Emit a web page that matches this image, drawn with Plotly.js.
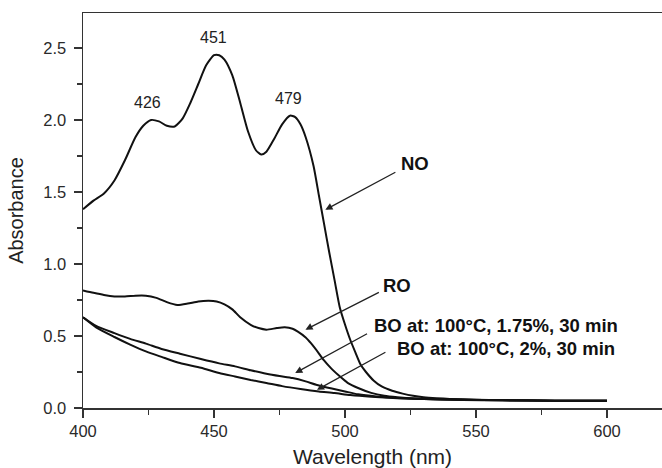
<!DOCTYPE html>
<html>
<head>
<meta charset="utf-8">
<script src="https://cdn.plot.ly/plotly-3.0.1.min.js"></script>
<style>html,body{margin:0;padding:0;background:#fff;}#chart{width:662px;height:468px;}</style>
</head>
<body>
<div id="chart"></div>
<script>
// NO
const noX = [400,404,408,412,416,420,423,426,429,432,435,438,441,444,447,450,452,454,457,460,463,466,468,470,473,476,479,481,483,485,488,490,492,494,496,498,500,502,504,506,508,511,514,518,522,526,530,535,540,550,560,570,580,590,600];
const noY = [1.38,1.44,1.49,1.58,1.72,1.88,1.96,2.00,1.99,1.96,1.955,2.01,2.12,2.25,2.38,2.45,2.45,2.42,2.31,2.12,1.92,1.79,1.76,1.78,1.87,1.97,2.03,2.02,1.97,1.88,1.68,1.48,1.28,1.08,0.89,0.70,0.58,0.474,0.385,0.30,0.25,0.19,0.15,0.12,0.10,0.085,0.075,0.068,0.063,0.058,0.055,0.053,0.05,0.05,0.05];
// RO
const roX = [400,404,408,412,416,420,424,428,432,436,440,444,448,451,454,457,460,464,467,470,474,477,480,482,485,487,490,492,495,498,501,505,510,515,520,527,535,545,560,580,600];
const roY = [0.817,0.80,0.785,0.775,0.774,0.78,0.78,0.765,0.735,0.715,0.725,0.74,0.745,0.74,0.72,0.685,0.63,0.578,0.555,0.544,0.555,0.56,0.55,0.53,0.49,0.45,0.38,0.33,0.27,0.22,0.175,0.139,0.105,0.085,0.075,0.066,0.06,0.057,0.054,0.05,0.05];
// BO at 100°C, 1.75%, 30 min
const bo175X = [400,405,412,418,424,430,437,445,452,458,464,470,475,480,485,489,495,500,505,512,520,530,545,560,580,600];
const bo175Y = [0.63,0.57,0.52,0.48,0.447,0.41,0.377,0.34,0.31,0.289,0.262,0.238,0.222,0.208,0.185,0.162,0.135,0.115,0.095,0.08,0.07,0.063,0.057,0.054,0.05,0.05];
// BO at 100°C, 2%, 30 min
const bo2X = [400,405,412,418,424,430,437,445,452,458,464,470,476,483,490,496,502,510,520,530,545,560,580,600];
const bo2Y = [0.63,0.56,0.493,0.44,0.393,0.355,0.312,0.28,0.243,0.219,0.195,0.174,0.152,0.132,0.115,0.104,0.09,0.078,0.068,0.062,0.056,0.053,0.05,0.05];

const peakX = [426,451,479];
const peakLabels = ['426','451','479'];

const FONT = '"Liberation Sans", Arial, sans-serif';
const lineStyle = {color:'#111', width:2, shape:'spline', smoothing:0.6};

const traces = [
  {x:noX, y:noY, mode:'lines', line:lineStyle, name:'NO'},
  {x:roX, y:roY, mode:'lines', line:lineStyle, name:'RO'},
  {x:bo175X, y:bo175Y, mode:'lines', line:lineStyle, name:'BO 1.75%'},
  {x:bo2X, y:bo2Y, mode:'lines', line:lineStyle, name:'BO 2%'}
];

const peakYOff = [2.122, 2.57, 2.146];
const annotations = [];
peakX.forEach((p,i)=>{
  annotations.push({x:p-1.3+ (i===2?0.8:0), y:peakYOff[i], xref:'x', yref:'y', text:peakLabels[i], showarrow:false,
    font:{family:FONT,size:16,color:'#222'}});
});
function arrow(x,y,ax,ay){
  return {x:x,y:y,ax:ax,ay:ay,xref:'x',yref:'y',axref:'x',ayref:'y',text:'',showarrow:true,
    arrowhead:2,arrowsize:1.1,arrowwidth:1.3,arrowcolor:'#222',standoff:0,startstandoff:0};
}
annotations.push(arrow(492.5,1.377,519.8,1.643));
annotations.push(arrow(484.9,0.544,513.5,0.808));
annotations.push(arrow(481,0.243,509,0.521));
annotations.push(arrow(489.3,0.127,516,0.393));
const bold = {family:FONT,size:18.5,color:'#111'};
annotations.push({x:526.8,y:1.70,xref:'x',yref:'y',text:'<b>NO</b>',showarrow:false,font:bold});
annotations.push({x:519.8,y:0.851,xref:'x',yref:'y',text:'<b>RO</b>',showarrow:false,font:bold});
annotations.push({x:510.3,y:0.572,xref:'x',yref:'y',text:'<b>BO at: 100°C, 1.75%, 30 min</b>',showarrow:false,xanchor:'left',font:bold});
annotations.push({x:519.2,y:0.41,xref:'x',yref:'y',text:'<b>BO at: 100°C, 2%, 30 min</b>',showarrow:false,xanchor:'left',font:bold});

const layout = {
  width:662, height:468,
  margin:{l:83, r:0, t:13, b:60},
  paper_bgcolor:'#fff', plot_bgcolor:'#fff',
  showlegend:false,
  font:{family:FONT, color:'#222'},
  xaxis:{
    range:[400,621], tickvals:[400,450,500,550,600], ticktext:['400','450','500','550','600'],
    ticks:'outside', ticklen:8, tickwidth:1.5, tickcolor:'#333',
    minor:{dtick:25, tick0:400, ticks:'outside', ticklen:5, tickwidth:1.5, tickcolor:'#333'},
    showline:true, linecolor:'#333', linewidth:1.5, mirror:true,
    showgrid:false, zeroline:false,
    tickfont:{family:FONT,size:16.5,color:'#2a2a2a'},
    title:{text:'Wavelength (nm)', font:{family:FONT,size:21,color:'#222'}, standoff:10}
  },
  yaxis:{
    range:[0,2.743], tickvals:[0,0.5,1,1.5,2,2.5], ticktext:['0.0','0.5','1.0','1.5','2.0','2.5'],
    ticks:'outside', ticklen:8, tickwidth:1.5, tickcolor:'#333',
    minor:{dtick:0.25, tick0:0, ticks:'outside', ticklen:5, tickwidth:1.5, tickcolor:'#333'},
    showline:true, linecolor:'#333', linewidth:1.5,
    showgrid:false, zeroline:false,
    tickfont:{family:FONT,size:16.5,color:'#2a2a2a'},
    ticklabelstandoff:4,
    title:{text:'Absorbance', font:{family:FONT,size:20,color:'#222'}, standoff:14}
  },
  annotations:annotations
};
Plotly.newPlot('chart', traces, layout, {staticPlot:true});
</script>
</body>
</html>
